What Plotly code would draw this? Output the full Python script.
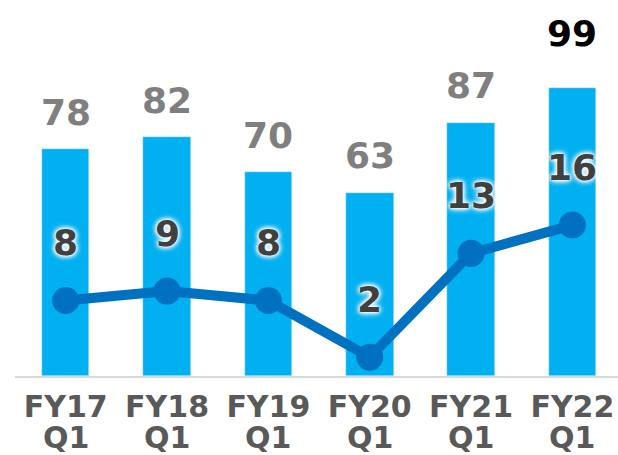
import plotly.graph_objects as go

fiscal_years = ["FY17", "FY18", "FY19", "FY20", "FY21", "FY22"]
quarters = ["Q1", "Q1", "Q1", "Q1", "Q1", "Q1"]
bar_values = [78, 82, 70, 63, 87, 99]
line_values = [8, 9, 8, 2, 13, 16]

BAR_COLOR = "#00B0F0"
LINE_COLOR = "#0070C0"
TICK_COLOR = "#595959"
FONT = "DejaVu Sans"
bar_label_colors = ["#7F7F7F"] * 5 + ["#000000"]
bar_label_shift = [37, 37, 37, 37, 37, 54]

fig = go.Figure()
fig.add_trace(go.Bar(x=fiscal_years, y=bar_values, marker_color=BAR_COLOR,
                     width=0.47, yaxis="y", hoverinfo="skip"))
fig.add_trace(go.Scatter(x=fiscal_years, y=line_values, mode="lines+markers",
                         line=dict(color=LINE_COLOR, width=10),
                         marker=dict(color=LINE_COLOR, size=27),
                         yaxis="y2", hoverinfo="skip"))

for i, (c, v) in enumerate(zip(fiscal_years, bar_values)):
    fig.add_annotation(x=c, y=v, xref="x", yref="y", text=str(v), showarrow=False,
                       yshift=bar_label_shift[i], yanchor="middle",
                       font=dict(family=FONT, size=36, color=bar_label_colors[i], weight="bold"))
for c, v in zip(fiscal_years, line_values):
    fig.add_annotation(x=c, y=v, xref="x", yref="y2", text=str(v), showarrow=False,
                       yshift=58, yanchor="middle",
                       font=dict(family=FONT, size=36, color="#404040", weight="bold",
                                 shadow="0px 0px 2px white, 0px 0px 4px white, 0px 0px 6px white, 0px 0px 6px white"))
for c, q in zip(fiscal_years, quarters):
    fig.add_annotation(x=c, y=0, xref="x", yref="paper", text=q, showarrow=False,
                       yshift=-61, yanchor="middle",
                       font=dict(family=FONT, size=30, color=TICK_COLOR, weight="bold"))

fig.update_layout(
    width=618, height=455,
    margin=dict(l=15, r=0, t=10, b=79),
    paper_bgcolor="white", plot_bgcolor="white",
    showlegend=False, bargap=0,
    xaxis=dict(type="category", range=[-0.5, 5.45], showline=True, linecolor="#D9D9D9",
               linewidth=2, showgrid=False, zeroline=False, ticks="", automargin=False,
               ticklabelstandoff=3,
               tickfont=dict(family=FONT, size=30, color=TICK_COLOR, weight="bold")),
    yaxis=dict(range=[0, 125.8], visible=False, showgrid=False, zeroline=False, automargin=False),
    yaxis2=dict(range=[0, 38.8], overlaying="y", visible=False, showgrid=False, zeroline=False,
                automargin=False),
)

fig.write_html("out.html", config={"displayModeBar": False},
               post_script="document.body.style.margin='0';document.body.style.overflow='hidden';")
